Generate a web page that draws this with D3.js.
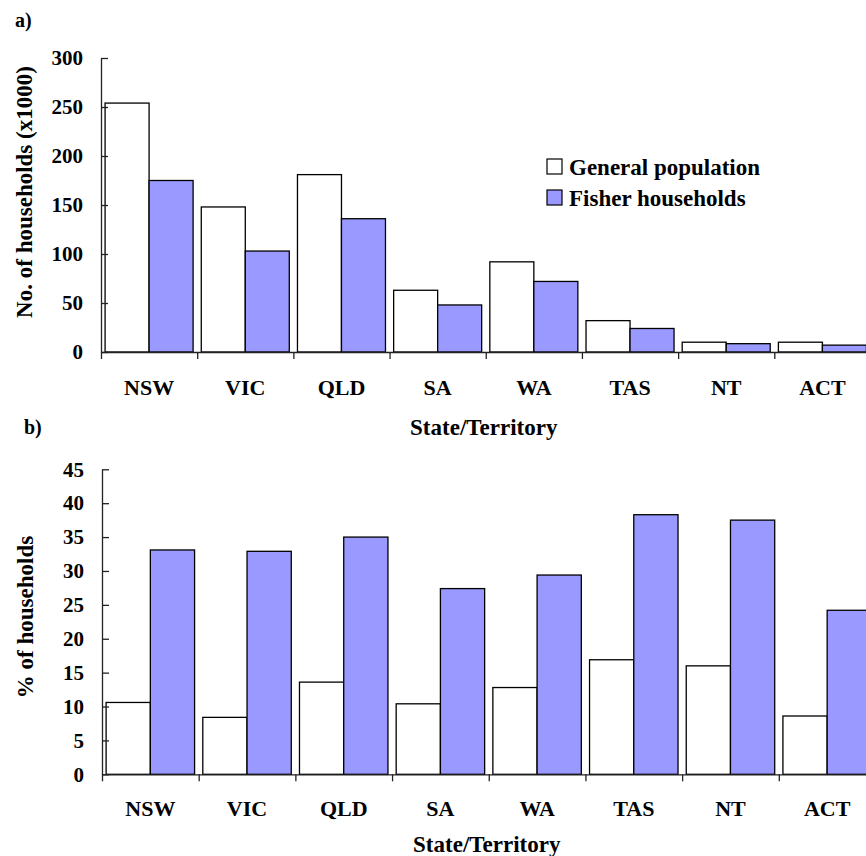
<!DOCTYPE html>
<html><head><meta charset="utf-8">
<script src="https://cdn.jsdelivr.net/npm/d3@7"></script>
<style>
body{margin:0;background:#fff;}
text{font-family:"Liberation Serif","Times New Roman",serif;font-weight:bold;fill:#000;}
</style></head>
<body><svg id="c" width="866" height="856"></svg>
<script>
const categories = ["NSW","VIC","QLD","SA","WA","TAS","NT","ACT"];
const seriesNames = ["General population","Fisher households"];
const householdsGeneral = [254,148,181,63,92,32,10,10];
const householdsFisher = [175,103,136,48,72,24,8.5,7];
const pctGeneral = [10.6,8.4,13.6,10.4,12.8,16.9,16.0,8.6];
const pctFisher = [33.1,32.9,35.0,27.4,29.4,38.3,37.5,24.2];
const ticksTop = [0,50,100,150,200,250,300];
const ticksBottom = [0,5,10,15,20,25,30,35,40,45];
const colors = ["#ffffff","#9999ff"];

const svg = d3.select("#c");

function panel(cfg){
  const g = svg.append("g");
  const x = d3.scaleBand().domain(categories).range([cfg.x0,cfg.x1]).paddingInner(0.085).paddingOuter(0.0425);
  const xs = d3.scaleBand().domain([0,1]).range([0,x.bandwidth()]);
  const y = d3.scaleLinear().domain([0,cfg.max]).range([cfg.y0,cfg.y1]);
  const data = categories.map((c,i)=>({c, v:[cfg.a[i],cfg.b[i]]}));
  const grp = g.selectAll("g.cat").data(data).join("g").attr("transform",d=>`translate(${x(d.c)},0)`);
  grp.selectAll("rect").data(d=>d.v.map((v,k)=>({v,k}))).join("rect")
    .attr("x",d=>xs(d.k)).attr("width",xs.bandwidth())
    .attr("y",d=>y(d.v)).attr("height",d=>y(0)-y(d.v))
    .attr("fill",d=>colors[d.k]).attr("stroke","#000").attr("stroke-width",1.3);
  // y axis
  const ya = g.append("g").attr("transform",`translate(${cfg.x0},0)`)
    .call(d3.axisLeft(y).tickValues(cfg.ticks).tickSizeInner(-7).tickSizeOuter(0).tickPadding(18));
  ya.selectAll("text").style("font-size","21px");
  ya.selectAll("path,line").attr("stroke","#222").attr("stroke-width",1.3);
  // x boundaries
  const xb = d3.scaleLinear().domain([0,categories.length]).range([cfg.x0,cfg.x1]);
  const xa = g.append("g").attr("transform",`translate(0,${cfg.y0})`)
    .call(d3.axisBottom(xb).ticks(categories.length).tickFormat("").tickSizeInner(7).tickSizeOuter(0));
  xa.selectAll("path,line").attr("stroke","#222").attr("stroke-width",1.3);
  const xl = g.append("g").attr("transform",`translate(0,${cfg.y0})`)
    .call(d3.axisBottom(x).tickSize(0).tickPadding(cfg.labPad));
  xl.select("path").remove();
  xl.selectAll("text").style("font-size","22px");
  g.append("text").attr("x",(cfg.x0+cfg.x1)/2 - 2).attr("y",cfg.titleY).attr("text-anchor","middle")
    .style("font-size","23px").text("State/Territory");
  g.append("text").attr("transform",`translate(${cfg.ytX},${cfg.ytY}) rotate(-90)`).attr("text-anchor","middle")
    .style("font-size","23px").text(cfg.ytitle);
  g.append("text").attr("x",cfg.lx).attr("y",cfg.ly).style("font-size","20px").text(cfg.letter);
  return g;
}

panel({x0:101,x1:870.5,y0:352,y1:58,max:300,a:householdsGeneral,b:householdsFisher,ticks:ticksTop,
  labPad:27,titleY:435,ytX:32,ytY:192,ytitle:"No. of households (x1000)",letter:"a)",lx:15,ly:27});
panel({x0:102,x1:875.5,y0:774.3,y1:469.3,max:45,a:pctGeneral,b:pctFisher,ticks:ticksBottom,
  labPad:26.5,titleY:852,ytX:33,ytY:617,ytitle:"% of households",letter:"b)",lx:24,ly:434});

// legend
const lg = svg.append("g").attr("transform","translate(547,159)");
const li = lg.selectAll("g").data(seriesNames).join("g").attr("transform",(d,i)=>`translate(0,${i*31})`);
li.append("rect").attr("width",15).attr("height",15).attr("fill",(d,i)=>colors[i]).attr("stroke","#000").attr("stroke-width",1.2);
li.append("text").attr("x",22).attr("y",16).style("font-size","23px").text(d=>d);
</script></body></html>
